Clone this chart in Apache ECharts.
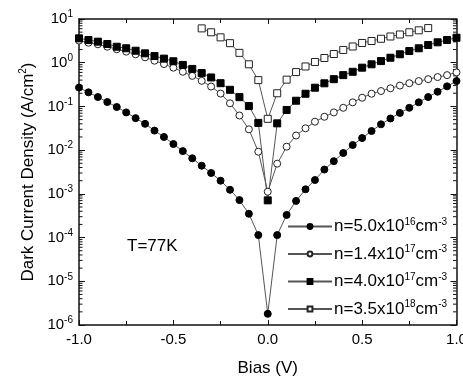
<!DOCTYPE html>
<html>
<head>
<meta charset="utf-8">
<script src="https://cdn.jsdelivr.net/npm/echarts@6/dist/echarts.min.js"></script>
<style>
  html, body { margin: 0; padding: 0; background: #fff; }
  #chart { width: 463px; height: 377px; }
</style>
</head>
<body>
<div id="chart"></div>
<script>
// bias points (V)
const BIAS = [-1.0, -0.95, -0.9, -0.85, -0.8, -0.75, -0.7, -0.65, -0.6, -0.55, -0.5,
  -0.45, -0.4, -0.35, -0.3, -0.25, -0.2, -0.15, -0.1, -0.05, 0.0,
  0.05, 0.1, 0.15, 0.2, 0.25, 0.3, 0.35, 0.4, 0.45, 0.5,
  0.55, 0.6, 0.65, 0.7, 0.75, 0.8, 0.85, 0.9, 0.95, 1.0];
const BIAS_35E18 = [-0.35, -0.3, -0.25, -0.2, -0.15, -0.1, -0.05, 0.0,
  0.05, 0.1, 0.15, 0.2, 0.25, 0.3, 0.35, 0.4, 0.45, 0.5,
  0.55, 0.6, 0.65, 0.7, 0.75, 0.8, 0.85];

// dark current density (A/cm^2)
const J_50E16 = [0.27, 0.21, 0.164, 0.126, 0.097, 0.073, 0.054, 0.040, 0.028, 0.020, 0.0138,
  0.0095, 0.0065, 0.0044, 0.0030, 0.0020, 0.00124, 0.00072, 0.00035, 0.000114, 1.8e-6,
  0.000114, 0.00033, 0.00069, 0.00127, 0.00207, 0.0036, 0.0056, 0.0086, 0.0131, 0.0189,
  0.0274, 0.039, 0.053, 0.071, 0.093, 0.124, 0.164, 0.217, 0.288, 0.38];
const J_14E17 = [3.2, 2.87, 2.64, 2.32, 2.03, 1.79, 1.56, 1.33, 1.11, 0.93, 0.77,
  0.62, 0.50, 0.385, 0.285, 0.197, 0.118, 0.062, 0.030, 0.0092, 0.00112,
  0.0049, 0.012, 0.0216, 0.0316, 0.0447, 0.058, 0.073, 0.093, 0.124, 0.158,
  0.195, 0.225, 0.26, 0.30, 0.34, 0.38, 0.42, 0.47, 0.52, 0.60];
const J_40E17 = [3.61, 3.30, 3.03, 2.68, 2.32, 2.14, 1.88, 1.64, 1.42, 1.24, 1.08,
  0.89, 0.72, 0.58, 0.46, 0.34, 0.24, 0.163, 0.102, 0.042, 0.00071,
  0.041, 0.083, 0.135, 0.195, 0.268, 0.338, 0.42, 0.52, 0.62, 0.77,
  0.92, 1.09, 1.30, 1.56, 1.85, 2.14, 2.54, 2.93, 3.31, 3.73];
const J_35E18 = [6.1, 4.97, 3.8, 2.8, 1.68, 0.92, 0.40, 0.052,
  0.20, 0.41, 0.61, 0.82, 1.04, 1.28, 1.58, 1.96, 2.35, 2.83,
  3.14, 3.53, 3.98, 4.42, 4.96, 5.51, 6.2];

const NAMES = [
  'n=5.0x10{sup|16}cm{sup|-3}',
  'n=1.4x10{sup|17}cm{sup|-3}',
  'n=4.0x10{sup|17}cm{sup|-3}',
  'n=3.5x10{sup|18}cm{sup|-3}'
];

// log minor ticks 2..9 in each decade
const MINOR = [];
for (let e = -6; e < 1; e++) {
  for (let m = 2; m <= 9; m++) MINOR.push(m * Math.pow(10, e));
}

const FONT = 'Liberation Sans';
const zip = (xs, ys) => xs.map((x, i) => [x, ys[i]]);

const filled = { color: '#000', borderColor: '#000', borderWidth: 1 };
const open = { color: '#fff', borderColor: '#222', borderWidth: 1 };
const mkLine = (name, data, symbol, style) => ({
  name, type: 'line', data, symbol, symbolSize: 7,
  lineStyle: { color: '#555', width: 1 },
  itemStyle: style,
  emphasis: { disabled: true },
  animation: false
});

const supRich = {
  sup: { fontSize: 10, fontFamily: FONT, color: '#000', padding: [0, 0, 9, 0] }
};

const frame = { onZero: false, lineStyle: { color: '#111', width: 1.5 } };

const chart = echarts.init(document.getElementById('chart'));
chart.setOption({
  backgroundColor: '#fff',
  animation: false,
  textStyle: { fontFamily: FONT, color: '#000' },
  grid: { left: 79, right: 6.5, top: 19, bottom: 52, outerBoundsMode: 'none', containLabel: false },
  xAxis: [{
    type: 'value', min: -1, max: 1, interval: 0.5,
    name: 'Bias (V)', nameLocation: 'middle', nameGap: 35,
    nameTextStyle: { fontSize: 17, fontFamily: FONT, color: '#000' },
    axisLine: frame,
    axisTick: { inside: true, length: 5, lineStyle: { color: '#111' } },
    minorTick: { show: true, splitNumber: 2, length: 4, lineStyle: { color: '#111' } },
    splitLine: { show: false },
    axisLabel: { fontSize: 15, margin: 7, color: '#000', hideOverlap: false, formatter: v => v.toFixed(1) }
  }, {
    type: 'value', min: -1, max: 1, interval: 0.5, position: 'top',
    axisLine: frame,
    axisTick: { inside: true, length: 5, lineStyle: { color: '#111' } },
    minorTick: { show: true, splitNumber: 2, length: 4, lineStyle: { color: '#111' } },
    splitLine: { show: false },
    axisLabel: { show: false }
  }],
  yAxis: [{
    type: 'log', logBase: 10, min: 1e-6, max: 10, interval: 1,
    name: 'Dark Current Density (A/cm{sup|2})', nameLocation: 'middle', nameGap: 31,
    nameTextStyle: { fontSize: 17, fontFamily: FONT, color: '#000', rich: supRich },
    axisLine: Object.assign({ show: true }, frame),
    axisTick: { show: true, inside: true, length: 6, lineStyle: { color: '#111' } },
    splitLine: { show: false },
    axisLabel: {
      fontSize: 15, margin: 6, color: '#000',
      formatter: v => '10{sup|' + Math.round(Math.log10(v)) + '}',
      rich: supRich
    }
  }, {
    type: 'log', logBase: 10, min: 1e-6, max: 10, interval: 1, position: 'right',
    axisLine: Object.assign({ show: true }, frame),
    axisTick: { show: true, inside: true, length: 6, lineStyle: { color: '#111' } },
    splitLine: { show: false },
    axisLabel: { show: false }
  }],
  legend: {
    orient: 'vertical', left: 282, top: 212,
    itemWidth: 44, itemHeight: 6, itemGap: 9.5,
    data: NAMES,
    textStyle: { fontSize: 17, fontFamily: FONT, color: '#000', padding: [0, 0, 0, -3], rich: supRich }
  },
  graphic: [{
    type: 'text', left: 127, top: 238,
    style: { text: 'T=77K', font: '17px "Liberation Sans"', fill: '#000' }
  }],
  series: [
    mkLine(NAMES[0], zip(BIAS, J_50E16), 'circle', filled),
    mkLine(NAMES[1], zip(BIAS, J_14E17), 'circle', open),
    mkLine(NAMES[2], zip(BIAS, J_40E17), 'rect', filled),
    mkLine(NAMES[3], zip(BIAS_35E18, J_35E18), 'rect', open),
    {
      type: 'custom', silent: true, animation: false,
      data: MINOR.map(v => [0, v]),
      encode: { x: 0, y: 1 },
      renderItem: (params, api) => {
        const y = api.coord([0, api.value(1)])[1];
        const cs = params.coordSys;
        const st = { stroke: '#111', lineWidth: 1 };
        return {
          type: 'group', children: [
            { type: 'line', shape: { x1: cs.x, y1: y, x2: cs.x + 3.5, y2: y }, style: st },
            { type: 'line', shape: { x1: cs.x + cs.width, y1: y, x2: cs.x + cs.width - 3.5, y2: y }, style: st }
          ]
        };
      }
    }
  ]
});
</script>
</body>
</html>
